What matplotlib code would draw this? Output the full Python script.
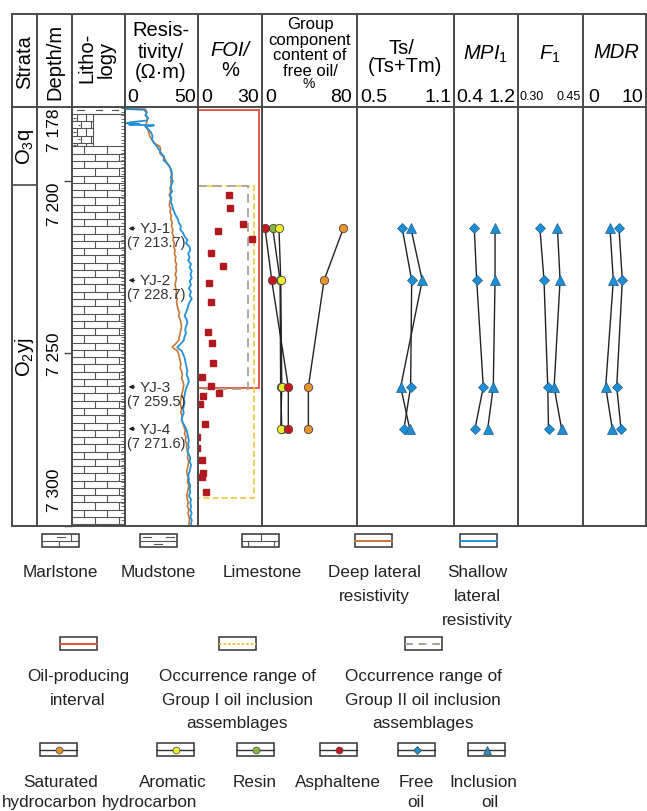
import matplotlib.pyplot as plt
from matplotlib.patches import Rectangle
from matplotlib.collections import LineCollection
from matplotlib.ticker import MultipleLocator

plt.rcParams['font.family'] = ['Liberation Sans', 'DejaVu Sans']
plt.rcParams['mathtext.fontset'] = 'custom'
plt.rcParams['mathtext.rm'] = 'Liberation Sans'
plt.rcParams['mathtext.it'] = 'Liberation Sans:italic'

W, H = 647, 812

# depth window of the log (m)
depth_top, depth_bottom = 7178.6, 7299.7
depth_ticks = [7200, 7250, 7300]
depth_labels = ['7 178', '7 200', '7 250', '7 300']
depth_label_pos = [7185.0, 7206.5, 7250.0, 7289.5]

formations = ['O$_3$q', 'O$_2$yj']
formation_top = [7178.6, 7201.2]
formation_base = [7201.2, 7300.0]

lith_name = ['mudstone', 'marlstone', 'limestone']
lith_top = [7178.6, 7180.6, 7190.0]
lith_base = [7180.6, 7190.0, 7300.0]

# resistivity logs (ohm.m)
shallow_depth = [7179.2, 7179.4, 7180.2, 7181.0, 7181.8, 7182.5, 7183.0, 7183.3, 7183.5, 7183.7,
                 7183.9, 7184.3, 7185, 7186, 7187, 7188, 7189, 7190, 7191, 7192, 7193, 7194,
                 7195, 7196, 7197, 7198, 7199, 7200, 7201, 7202, 7203, 7204, 7205, 7206, 7207,
                 7208, 7209, 7210, 7211, 7212, 7213, 7214, 7215, 7216, 7217, 7218, 7219, 7220,
                 7221, 7222, 7223, 7224, 7225, 7226, 7227, 7228, 7229, 7230, 7231, 7232, 7233,
                 7234, 7235, 7236, 7237, 7238, 7239, 7240, 7241, 7242, 7243, 7244, 7245, 7246,
                 7247, 7248, 7248.5, 7249, 7250, 7251, 7252, 7253, 7254, 7255, 7256, 7257, 7258,
                 7259, 7260, 7261, 7262, 7263, 7264, 7265, 7266, 7267, 7268, 7269, 7270, 7271,
                 7272, 7273, 7274, 7275, 7276, 7277, 7278, 7279, 7280, 7281, 7282, 7283, 7284,
                 7285, 7286, 7287, 7288, 7289, 7290, 7291, 7292, 7293, 7294, 7295, 7296, 7297,
                 7298, 7299, 7300]
shallow_res = [0, 13, 15, 14, 16, 15, 4, 1, 10, 3,
               20, 14, 16, 18, 19, 18.5, 20, 22, 23.5, 25, 27, 26.5,
               29.5, 31, 32, 32.5, 31.5, 33, 32, 31.5, 32.5, 31, 32, 31.5, 32.5,
               33, 34, 35, 36.5, 37, 38.5, 38, 40, 41, 43, 42, 44.5, 45,
               43.5, 44.5, 43.5, 45.5, 44.5, 46, 45, 46, 44.5, 45.5, 44, 45.5, 44.5,
               46, 44.5, 43.5, 43, 42, 41, 42.5, 43, 42, 41.5, 42, 41, 40.5,
               38.5, 36, 37, 39, 40, 41, 41.5, 42, 42.5, 43, 42.5, 43.5, 44,
               43, 42, 41.5, 41, 40.5, 41, 40.5, 40, 40.5, 39.5, 39, 40, 41.5,
               42.5, 43, 43.5, 44, 43.5, 44, 43, 44, 45, 44.5, 45.5, 45, 44.5,
               43.5, 44, 44, 45, 44.5, 45, 44, 45.5, 45, 45.5, 45, 46, 45,
               46, 45.5, 46]
deep_depth = [7179.0, 7179.2, 7180, 7181, 7182, 7183, 7184, 7185, 7186, 7187, 7188, 7189, 7190,
              7191, 7192, 7193, 7194, 7195, 7196, 7197, 7198, 7199, 7200, 7201, 7202, 7203,
              7204, 7205, 7206, 7207, 7208, 7209, 7210, 7211, 7212, 7213, 7214, 7215, 7216,
              7217, 7218, 7219, 7220, 7221, 7222, 7223, 7224, 7225, 7226, 7227, 7228, 7229,
              7230, 7231, 7232, 7233, 7234, 7235, 7236, 7237, 7238, 7239, 7240, 7241, 7242,
              7243, 7244, 7245, 7246, 7247, 7248, 7248.5, 7249, 7250, 7251, 7252, 7253, 7254,
              7255, 7256, 7257, 7258, 7259, 7260, 7261, 7262, 7263, 7264, 7265, 7266, 7267,
              7268, 7269, 7270, 7271, 7272, 7273, 7274, 7275, 7276, 7277, 7278, 7279, 7280,
              7281, 7282, 7283, 7284, 7285, 7286, 7287, 7288, 7289, 7290, 7291, 7292, 7293,
              7294, 7295, 7296, 7297, 7298, 7299, 7300]
deep_res = [0, 14, 15, 14.5, 15.5, 15, 14, 15.5, 16.5, 17, 18.5, 20, 24,
            24.5, 24, 26.5, 28, 29, 31, 31.5, 32, 32.5, 31.5, 32, 31, 31.5,
            30.5, 31.5, 31, 30.5, 31.5, 31, 32, 31.5, 32.5, 32, 33, 32.5, 33.5,
            33, 34, 33.5, 34.5, 34, 35, 34.5, 35.5, 35, 35.5, 34.5, 35.5, 35,
            34.5, 35, 35.5, 35, 36, 35.5, 36, 36.5, 37.5, 37, 38, 38.5, 39,
            38.5, 38, 37.5, 37, 35, 32.5, 34, 36, 37, 37.5, 38, 38.5, 38,
            39, 39.5, 39, 40, 40.5, 40, 39.5, 39, 38.5, 38, 38.5, 39, 38.5,
            39.5, 39, 40, 40.5, 41.5, 41, 42, 41.5, 42.5, 42.5, 43, 43.5, 43,
            44, 43.5, 43, 42.5, 43, 43.5, 43, 44, 43.5, 43, 42.5, 43, 43.5,
            43, 44, 43.5, 44, 44.5, 44, 44.5]

# frequency of oil inclusions (%)
foi_depth = [7204.0, 7207.8, 7212.4, 7214.5, 7216.8, 7220.8, 7224.5, 7229.6, 7234.9, 7243.7,
             7246.8, 7252.6, 7256.7, 7259.3, 7261.3, 7262.2, 7264.5, 7270.2, 7273.9, 7277.2,
             7280.6, 7284.5, 7285.5, 7290.0]
foi_value = [15.5, 16.1, 22.6, 10.0, 27.3, 6.0, 12.3, 5.4, 6.0, 4.5,
             6.6, 7.4, 1.7, 6.0, 10.4, 2.2, 0.5, 3.1, -0.8, -0.8,
             1.7, 2.2, 1.4, 3.5]

oil_interval = [7179.4, 7259.8]
group1_range = [7201.3, 7291.5]
group2_range = [7201.3, 7260.2]

samples = ['YJ-1', 'YJ-2', 'YJ-3', 'YJ-4']
sample_depth = [7213.7, 7228.7, 7259.5, 7271.6]

# group components of free oil (%)
saturated = [70.8, 53.5, 39.4, 39.4]
aromatic = [13.0, 14.6, 15.5, 14.6]
resin = [7.4, 14.0, 14.5, 15.5]
asphaltene = [0.5, 6.5, 21.4, 21.4]

ts_free = [0.779, 0.840, 0.833, 0.790]
ts_incl = [0.835, 0.908, 0.769, 0.827]
mpi_free = [0.633, 0.667, 0.761, 0.643]
mpi_incl = [0.929, 0.929, 0.904, 0.824]
f1_free = [0.348, 0.359, 0.369, 0.371]
f1_incl = [0.395, 0.402, 0.386, 0.406]
mdr_free = [5.96, 6.60, 5.52, 6.35]
mdr_incl = [4.23, 4.87, 3.40, 4.67]

C_DEEP = '#C97634'
C_SHALLOW = '#2390D8'
C_SQUARE = '#B01A1E'
C_RED = '#E2503A'
C_YELLOW = '#F2C230'
C_GRAY = '#A9A49A'
C_SAT = '#EA922C'
C_ARO = '#EDEB2E'
C_RESIN = '#86B83A'
C_ASPH = '#C9161C'
C_OIL = '#1F8FD4'
LINE = '#4A4A4A'

fig = plt.figure(figsize=(W / 100, H / 100), dpi=100)

TOP, HEAD, BOT = 15, 108, 527
cols = [12, 37, 72, 125, 198, 262, 357, 454, 518, 583, 646]


def px_axes(x0, x1):
    ax = fig.add_axes([x0 / W, 1 - BOT / H, (x1 - x0) / W, (BOT - HEAD) / H])
    ax.set_ylim(depth_bottom, depth_top)
    ax.patch.set_alpha(0)
    for s in ax.spines.values():
        s.set_visible(False)
    ax.set_xticks([])
    ax.set_yticks([])
    return ax


ax_strata = px_axes(cols[0], cols[1])
ax_depth = px_axes(cols[1], cols[2])
ax_lith = px_axes(cols[2], cols[3])
ax_res = px_axes(cols[3], cols[4])
ax_foi = px_axes(cols[4], cols[5])
ax_grp = px_axes(cols[5], cols[6])
ax_ts = px_axes(cols[6], cols[7])
ax_mpi = px_axes(cols[7], cols[8])
ax_f1 = px_axes(cols[8], cols[9])
ax_mdr = px_axes(cols[9], cols[10])

# strata
ax_strata.set_xlim(0, 1)
for name, t, b in zip(formations, formation_top, formation_base):
    ax_strata.plot([0, 1], [b, b], color=LINE, lw=1.2)
    ax_strata.text(0.5, (t + b) / 2, name, rotation=90, ha='center', va='center', fontsize=14.5)

# depth scale
ax_depth.set_xlim(0, 1)
ax_depth.set_yticks(depth_ticks)
ax_depth.yaxis.set_ticks_position('right')
ax_depth.tick_params(axis='y', direction='in', length=6, width=1, color='#444', labelright=False)
for lab, d in zip(depth_labels, depth_label_pos):
    ax_depth.text(0.5, d, lab, rotation=90, ha='center', va='center', fontsize=12.5)


# lithology
def bricks(ax, top, base, x0, x1, row=2.1, dash=False):
    segs = []
    d, k = top, 0
    while d < base - 0.01:
        nd = min(d + row, base)
        segs.append([(x0, nd), (x1, nd)])
        offs = [0.22, 0.66] if k % 2 == 0 else [0.44, 0.88]
        for o in offs:
            xv = x0 + o * (x1 - x0)
            segs.append([(xv, d), (xv, nd)])
        if dash:
            m = (d + nd) / 2
            a = x0 + (offs[0] - 0.16) * (x1 - x0)
            segs.append([(max(a, x0 + 0.02), m), (a + 0.12 * (x1 - x0), m)])
        d, k = nd, k + 1
    ax.add_collection(LineCollection(segs, colors='#555555', linewidths=0.8))


ax_lith.set_xlim(0, 1)
for name, t, b in zip(lith_name, lith_top, lith_base):
    if name == 'mudstone':
        ax_lith.plot([0, 1], [b, b], color='#555555', lw=0.8)
        for xa in [0.1, 0.45, 0.75]:
            ax_lith.plot([xa, xa + 0.12], [(t + b) / 2] * 2, color='#555555', lw=0.8)
    elif name == 'marlstone':
        bricks(ax_lith, t, b, 0.0, 0.4, dash=True)
        ax_lith.add_patch(Rectangle((0.4, t), 0.6, b - t, fill=False, ec='#555555', lw=0.8))
    else:
        bricks(ax_lith, t, b, 0.0, 1.0)

# resistivity
ax_res.set_xlim(0, 50.3)
ax_res.plot(deep_res, deep_depth, color=C_DEEP, lw=1.2)
ax_res.plot(shallow_res, shallow_depth, color=C_SHALLOW, lw=1.3)
ax_res.yaxis.set_major_locator(MultipleLocator(1))
ax_res.tick_params(axis='y', direction='out', length=3, width=0.6, color='#555', labelleft=False)
for name, d in zip(samples, sample_depth):
    ax_res.annotate('', xy=(0.5, d), xytext=(8.5, d),
                    arrowprops=dict(arrowstyle='-|>', color='#222', lw=0.9, mutation_scale=6))
    ax_res.text(10.0, d, name, ha='left', va='center', fontsize=11, color='#333')
    s = f'{d:.1f}'
    ax_res.text(1.2, d + 4.0, f'({s[0]} {s[1:]})', ha='left', va='center', fontsize=10.5,
                color='#333')

# FOI
ax_foi.set_xlim(-0.5, 32.6)
ax_foi.add_patch(Rectangle((-0.3, oil_interval[0]), 31.2, oil_interval[1] - oil_interval[0],
                           fill=False, ec=C_RED, lw=1.3))
ax_foi.add_patch(Rectangle((-0.3, group1_range[0]), 28.8, group1_range[1] - group1_range[0],
                           fill=False, ec=C_YELLOW, lw=1.1, ls=(0, (4, 2))))
ax_foi.add_patch(Rectangle((-0.3, group2_range[0]), 25.8, group2_range[1] - group2_range[0],
                           fill=False, ec=C_GRAY, lw=1.3, ls=(0, (5, 3))))
ax_foi.plot(foi_value, foi_depth, ls='none', marker='s', ms=5, color=C_SQUARE, mec=C_SQUARE)

# group components
ax_grp.set_xlim(-2.25, 83.1)
for vals in [saturated, aromatic, resin, asphaltene]:
    ax_grp.plot(vals, sample_depth, color='#222', lw=1.0)
for vals, c in [(resin, C_RESIN), (aromatic, C_ARO), (asphaltene, C_ASPH), (saturated, C_SAT)]:
    ax_grp.plot(vals, sample_depth, ls='none', marker='o', ms=6, mfc=c, mec='#444', mew=0.6)

# biomarker / maturity columns
for ax, lim, free, incl in [(ax_ts, (0.487, 1.113), ts_free, ts_incl),
                            (ax_mpi, (0.343, 1.257), mpi_free, mpi_incl),
                            (ax_f1, (0.2893, 0.4634), f1_free, f1_incl),
                            (ax_mdr, (-0.96, 11.15), mdr_free, mdr_incl)]:
    ax.set_xlim(*lim)
    ax.plot(free, sample_depth, color='#222', lw=1.0)
    ax.plot(incl, sample_depth, color='#222', lw=1.0)
    ax.plot(free, sample_depth, ls='none', marker='D', ms=5.5, mfc=C_OIL, mec='#1B5E8F', mew=0.5)
    ax.plot(incl, sample_depth, ls='none', marker='^', ms=7.5, mfc=C_OIL, mec='#1B5E8F', mew=0.5)

# overlay in pixel units: grid frame, header and legend
ax0 = fig.add_axes([0, 0, 1, 1])
ax0.set_xlim(0, W)
ax0.set_ylim(H, 0)
ax0.axis('off')

for x in cols:
    ax0.plot([x, x], [TOP, BOT], color=LINE, lw=1.4)
for y in [TOP, HEAD, BOT]:
    ax0.plot([cols[0], cols[-1]], [y, y], color=LINE, lw=1.4)

HF = 14.5
ax0.text(25, 62, 'Strata', rotation=90, ha='center', va='center', fontsize=HF)
ax0.text(54.5, 62, 'Depth/m', rotation=90, ha='center', va='center', fontsize=HF)
ax0.text(87, 58, 'Litho-', rotation=90, ha='center', va='center', fontsize=HF)
ax0.text(106, 59, 'logy', rotation=90, ha='center', va='center', fontsize=HF)
for txt, y in [('Resis-', 31), ('tivity/', 53), ('(Ω·m)', 73)]:
    ax0.text(161, y, txt, ha='center', va='center', fontsize=HF)
ax0.text(230, 50, 'FOI/', ha='center', va='center', fontsize=HF, style='italic')
ax0.text(230, 71, '%', ha='center', va='center', fontsize=HF)
for txt, y in [('Group', 24), ('component', 40), ('content of', 56), ('free oil/', 71)]:
    ax0.text(310, y, txt, ha='center', va='center', fontsize=12)
ax0.text(309, 84, '%', ha='center', va='center', fontsize=10)
ax0.text(401, 48, 'Ts/', ha='center', va='center', fontsize=HF)
ax0.text(405, 66, '(Ts+Tm)', ha='center', va='center', fontsize=HF)
ax0.text(486, 54, r'$\mathit{MPI}_1$', ha='center', va='center', fontsize=HF)
ax0.text(550, 54, r'$\mathit{F}_1$', ha='center', va='center', fontsize=HF)
ax0.text(616, 52, 'MDR', ha='center', va='center', fontsize=HF, style='italic')

scale_labels = [('0', '50', 127, 196), ('0', '30', 201, 259), ('0', '80', 265, 352),
                ('0.5', '1.1', 360, 452), ('0.4', '1.2', 456, 516), ('0', '10', 588, 643)]
for lo, hi, xl, xr in scale_labels:
    ax0.text(xl, 97, lo, ha='left', va='center', fontsize=14)
    ax0.text(xr, 97, hi, ha='right', va='center', fontsize=14)
ax0.text(520, 97, '0.30', ha='left', va='center', fontsize=9)
ax0.text(581, 97, '0.45', ha='right', va='center', fontsize=9)

# legend
LF = 12.3
BW, BH = 37, 13


def box(x, y):
    ax0.add_patch(Rectangle((x, y), BW, BH, fill=False, ec='#333', lw=1.1))


def seg(x0, y0, x1, y1, **kw):
    ax0.plot([x0, x1], [y0, y1], color=kw.pop('color', '#555'), lw=kw.pop('lw', 0.8), **kw)


def label(x, ys, lines):
    for y, t in zip(ys, lines):
        ax0.text(x, y, t, ha='center', va='baseline', fontsize=LF, color='#222')


r1 = 535
box(42, r1); seg(42, r1 + 6.5, 79, r1 + 6.5)
seg(71, r1, 71, r1 + 6.5); seg(57, r1 + 3.2, 65, r1 + 3.2); seg(59, r1 + 6.5, 59, r1 + BH)
box(140, r1); seg(140, r1 + 6.5, 177, r1 + 6.5)
seg(143, r1 + 3.2, 151, r1 + 3.2); seg(166, r1 + 3.2, 174, r1 + 3.2); seg(154, r1 + 9.8, 162, r1 + 9.8)
box(242, r1); seg(242, r1 + 6.5, 279, r1 + 6.5)
seg(261, r1, 261, r1 + 6.5); seg(248, r1 + 6.5, 248, r1 + BH); seg(274, r1 + 6.5, 274, r1 + BH)
box(355, r1); seg(355, r1 + 6.5, 392, r1 + 6.5, color=C_DEEP, lw=1.4)
box(460, r1); seg(460, r1 + 6.5, 497, r1 + 6.5, color=C_SHALLOW, lw=1.4)
label(60, [577], ['Marlstone'])
label(158, [577], ['Mudstone'])
label(262, [577], ['Limestone'])
label(374, [577, 601], ['Deep lateral', 'resistivity'])
label(477, [577, 601, 625], ['Shallow', 'lateral', 'resistivity'])

r2 = 638
box(60, r2); seg(60, r2 + 6.5, 97, r2 + 6.5, color=C_RED, lw=1.4)
box(219, r2); seg(219, r2 + 6.5, 256, r2 + 6.5, color=C_YELLOW, lw=1.3, ls=(0, (1.5, 1)))
box(405, r2); seg(405, r2 + 6.5, 442, r2 + 6.5, color=C_GRAY, lw=1.4, ls=(0, (4, 3)))
label(78, [681, 705], ['Oil-producing', 'interval'])
label(237, [681, 705, 728], ['Occurrence range of', 'Group I oil inclusion', 'assemblages'])
label(423, [681, 705, 728], ['Occurrence range of', 'Group II oil inclusion', 'assemblages'])

r3 = 744
for x, c, m, ms in [(40, C_SAT, 'o', 5), (157, C_ARO, 'o', 5), (237, C_RESIN, 'o', 5),
                    (320, C_ASPH, 'o', 5), (398, C_OIL, 'D', 4.5), (468, C_OIL, '^', 6)]:
    box(x, r3)
    seg(x, r3 + 6.5, x + BW, r3 + 6.5, color='#333', lw=1.0)
    ax0.plot([x + BW / 2], [r3 + 6.5], marker=m, ms=ms, mfc=c, mec='#444', mew=0.5)
label(61, [787], ['Saturated'])
label(50, [807], ['hydrocarbon'])
label(173, [787], ['Aromatic'])
label(150, [807], ['hydrocarbon'])
label(255, [787], ['Resin'])
label(338, [787], ['Asphaltene'])
label(416, [787, 807], ['Free', 'oil'])
label(483, [787], ['Inclusion'])
label(490, [807], ['oil'])

fig.savefig('out.png', dpi=100)
